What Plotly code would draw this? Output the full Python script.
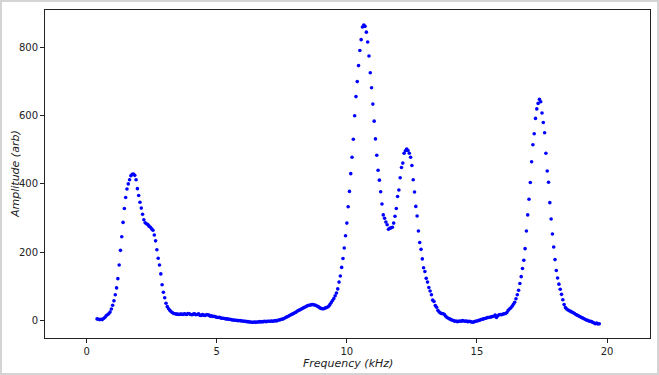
import numpy as np
import plotly.graph_objects as go

# Amplitude readings (arb), sampled every 0.05 kHz
step_khz = 0.05

start_a = 0.40
amp_a = [4, 3, 2, 3, 2, 5, 8, 13, 16, 19,
         24, 33, 44, 57, 75, 95, 122, 162, 205, 245,
         287, 328, 360, 385, 400, 412, 424, 428, 429, 425,
         412, 386, 366, 346, 329, 311, 295, 286, 283, 281,
         276, 273, 268, 264, 250, 233, 207, 182, 162, 136,
         104, 82, 66, 50, 40, 34, 29]

start_b = 3.25
amp_b = [25, 22, 20, 19, 18, 18, 17, 18, 18, 17,
         19, 18, 17, 20, 19, 17, 16, 18, 19, 16,
         17, 19, 15, 14, 17, 15, 14, 16, 16, 15,
         12, 13, 11, 12, 10, 9, 8, 9, 7, 6,
         6, 5, 4, 4, 3, 3, 2, 1, 1, 0,
         0, -1, -1, -1, -2, -2, -3, -3, -4, -4,
         -5, -5, -6, -6, -5, -6, -5, -5, -4, -5,
         -4, -4, -3, -4, -3, -3, -3, -2, -3, -2,
         -1, -2, 0, 1, 2, 3, 4, 6, 8, 10,
         12, 14, 16, 18, 20, 22, 24, 27, 29, 31,
         33, 35, 37, 39, 41, 43, 44, 45, 46, 46,
         45, 44, 42, 40, 37, 35, 34, 34, 35, 37,
         38, 41, 46, 52, 58, 64, 72, 80]

start_c = 9.65
amp_c = [92, 112, 130, 155, 181, 212, 248, 285, 333, 378,
         430, 478, 531, 600, 656, 700, 747, 791, 823, 860,
         866, 862, 845, 816, 775, 726, 682, 634, 584, 532,
         484, 440, 411, 377, 341, 309, 299, 288, 280, 267,
         270, 271, 273, 285, 305, 328, 363, 382, 418, 448,
         461, 490, 497, 502, 498, 490, 478, 454, 412, 376,
         334, 306, 262, 228, 208, 180, 154, 143, 123, 112,
         96, 86, 75, 59, 55, 43, 38, 29, 24, 21,
         20, 19, 17, 12, 8, 6, 4, 2, 0, -1,
         -3, -2, -4, -3, -2, -3, -1, -2, -3, -2,
         -4, -3, -4, -5, -6, -4, -3, -2, -1, 0,
         2, 3, 4, 5, 6, 8, 8, 9, 10, 11,
         12, 15, 8, 13, 16, 17, 16, 18, 19, 20,
         23, 29, 33, 36, 41, 47, 53, 63, 75, 88,
         108, 128, 152, 176, 210, 262, 309, 355, 404, 465,
         515, 547, 592, 620, 636, 648, 641, 608, 580, 550,
         490, 438, 405, 345, 297, 253, 215, 178, 146, 124,
         106, 91, 76, 60, 46, 37, 33, 30, 28, 26,
         24, 22, 20, 17, 15, 13, 11, 9, 7, 5,
         3, 1, 0, -2, -3, -4, -6, -8, -10, -8,
         -11, -10]

x_ticks = [0, 5, 10, 15, 20]
y_ticks = [0, 200, 400, 600, 800]
x_title = "<i>Frequency (kHz)</i>"
y_title = "<i>Amplitude (arb)</i>"

def grid(start, n):
    return [round(start + step_khz * i, 3) for i in range(n)]

freq = grid(start_a, len(amp_a)) + grid(start_b, len(amp_b)) + grid(start_c, len(amp_c))
amp = amp_a + amp_b + amp_c

fig = go.Figure()
fig.add_trace(go.Scatter(x=freq, y=amp, mode="markers",
                         marker=dict(color="#0000ff", size=3.6, line=dict(width=0)),
                         showlegend=False))

W, H = 659, 375
ml, mr, mt, mb = 45, 9, 10, 37
pw, ph = W - ml - mr, H - mt - mb

axis_common = dict(showgrid=False, zeroline=False, showline=True, mirror=True,
                   linecolor="#222", linewidth=1, ticks="outside", ticklen=4,
                   tickwidth=1, tickcolor="#222", automargin=False,
                   tickfont=dict(family="DejaVu Sans", size=10, color="#222"))

fig.update_layout(
    width=W, height=H,
    margin=dict(l=ml, r=mr, t=mt, b=mb),
    paper_bgcolor="white", plot_bgcolor="white",
    xaxis=dict(range=[-1.6, 21.65], tickvals=x_ticks, **axis_common),
    yaxis=dict(range=[-52, 910], tickvals=y_ticks, **axis_common),
)

title_font = dict(family="DejaVu Sans", size=11, color="#222")
fig.add_annotation(text=x_title, xref="paper", yref="paper",
                   x=0.5, y=-(355 - (H - mb)) / ph, xanchor="center", yanchor="top",
                   showarrow=False, font=title_font)
fig.add_annotation(text=y_title, xref="paper", yref="paper", textangle=-90,
                   x=-(ml - 15) / pw, y=0.5, xanchor="center", yanchor="middle",
                   showarrow=False, font=title_font)

# light frame around the whole picture
fig.add_shape(type="rect", xref="paper", yref="paper",
              x0=-(ml - 1) / pw, x1=1 + (mr - 1) / pw,
              y0=-(mb - 1) / ph, y1=1 + (mt - 1) / ph,
              line=dict(color="#d4d4d4", width=2), fillcolor="rgba(0,0,0,0)", layer="below")

fig.write_html("out.html", config={"displayModeBar": False},
               post_script="document.body.style.margin='0';document.body.style.padding='0';")
